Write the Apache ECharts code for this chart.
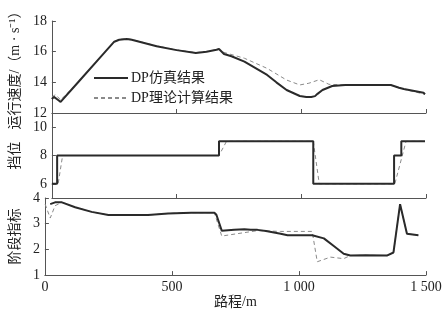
<!DOCTYPE html>
<html><head><meta charset="utf-8">
<script src="https://cdn.jsdelivr.net/npm/echarts@6/dist/echarts.min.js"></script>
<style>html,body{margin:0;padding:0;background:#fff}#c{width:445px;height:310px}</style>
</head><body><div id="c"></div>
<script>
// ---- data (distance m, value) ----
const legendNames = ['DP仿真结果', 'DP理论计算结果'];
const xTicks = [0, 500, 1000, 1500];
const speedSim = [[0,12.9],[8,13.05],[15,13.1],[25,12.85],[35,12.72],[106,14.02],[200,15.74],[250,16.65],[270,16.78],[300,16.82],[320,16.78],[420,16.35],[500,16.1],[577,15.92],[620,16.0],[660,16.12],[670,16.17],[690,15.85],[720,15.7],[772,15.35],[863,14.48],[900,14.0],[941,13.5],[994,13.11],[1020,13.04],[1040,13.05],[1055,13.1],[1065,13.25],[1085,13.5],[1124,13.76],[1176,13.83],[1359,13.83],[1392,13.65],[1398,13.78],[1411,13.56],[1490,13.32],[1496,13.22]];
const speedTheory = [[0,13.05],[15,13.2],[35,12.85],[106,14.02],[200,15.74],[250,16.65],[270,16.8],[300,16.85],[320,16.8],[420,16.37],[500,16.12],[577,15.94],[620,16.02],[660,16.12],[670,16.15],[690,15.95],[772,15.57],[863,14.91],[941,14.15],[994,13.83],[1030,13.94],[1072,14.17],[1111,13.87],[1176,13.83],[1359,13.83],[1390,13.65],[1410,13.55],[1496,13.22]];
const gearSim = [[0,6],[21,6],[21,8],[670,8],[670,9],[1048,9],[1048,6],[1372,6],[1372,8],[1401,8],[1401,9],[1496,9]];
const gearTheory = [[0,6],[25,6],[43,8],[670,8],[700,9],[1048,9],[1072,6],[1375,6],[1420,9],[1496,9]];
const stageSim = [[21,3.76],[40,3.83],[67,3.83],[119,3.64],[184,3.46],[250,3.34],[406,3.34],[485,3.4],[576,3.43],[667,3.43],[675,3.35],[696,2.73],[745,2.76],[785,2.78],[810,2.76],[837,2.76],[870,2.72],[928,2.61],[955,2.55],[1052,2.55],[1098,2.43],[1137,2.13],[1176,1.83],[1202,1.76],[1260,1.77],[1346,1.76],[1372,1.88],[1398,3.76],[1425,2.61],[1470,2.55]];
const stageTheory = [[1,3.76],[21,3.22],[40,3.7],[67,3.83],[119,3.64],[184,3.46],[250,3.34],[406,3.34],[485,3.4],[576,3.43],[667,3.43],[696,2.52],[837,2.73],[928,2.7],[1052,2.7],[1072,1.52],[1124,1.7],[1176,1.64],[1202,1.76],[1260,1.77],[1346,1.76],[1372,1.88],[1398,3.76],[1425,2.61],[1470,2.55]];
const speedTicks = [12, 14, 16, 18];
const gearTicks = [6, 8, 10];
const stageTicks = [1, 2, 3, 4];

const FONT = "'Liberation Serif','Noto Sans CJK SC',serif";
const axisColor = '#555';
const chart = echarts.init(document.getElementById('c'), null, {renderer: 'canvas'});

function xAxis(idx, showLabel) {
  return {
    type: 'value', gridIndex: idx, min: 0, max: 1500, interval: 500,
    axisLine: {show: true, lineStyle: {color: axisColor, width: 1}},
    axisTick: {show: true, inside: true, length: 4, customValues: xTicks, lineStyle: {color: axisColor}},
    splitLine: {show: false},
    axisLabel: {show: showLabel, color: '#222', fontFamily: FONT, fontSize: 14, margin: 5,
      formatter: v => v >= 1000 ? String(v).replace(/(\d)(\d{3})$/, '$1 $2') : String(v)},
    name: showLabel ? '路程/m' : '', nameLocation: 'middle', nameGap: 17,
    nameTextStyle: {color: '#222', fontFamily: FONT, fontSize: 14}
  };
}
function yAxis(idx, min, max, ticks, name, nameGap) {
  return {
    type: 'value', gridIndex: idx, min: min, max: max, interval: 1,
    axisLine: {show: true, lineStyle: {color: axisColor, width: 1}},
    axisTick: {show: true, inside: true, length: 4, customValues: ticks, lineStyle: {color: axisColor}},
    axisLabel: {color: '#222', fontFamily: FONT, fontSize: 14, margin: 5, customValues: ticks},
    splitLine: {show: false},
    name: name, nameLocation: 'middle', nameRotate: 90, nameGap: nameGap,
    nameTextStyle: {color: '#222', fontFamily: FONT, fontSize: 14}
  };
}
const solid = {color: '#2a2a2a', width: 2};
const dashed = {color: '#8a8a8a', width: 1, type: [4, 3]};
function ser(name, data, g, style) {
  return {type: 'line', name: name, data: data, xAxisIndex: g, yAxisIndex: g,
    showSymbol: false, symbol: 'none', lineStyle: style, itemStyle: {color: style.color},
    animation: false, z: style.type ? 2 : 3};
}
chart.setOption({
  animation: false,
  backgroundColor: '#fff',
  grid: [
    {left: 43, right: 19, top: 21, height: 92},
    {left: 43, right: 19, top: 113, height: 85},
    {left: 43, right: 19, top: 198, height: 83}
  ],
  xAxis: [xAxis(0, false), xAxis(1, false), xAxis(2, true)],
  yAxis: [
    yAxis(0, 12, 18, speedTicks, '运行速度/（m · s⁻¹）', 19),
    yAxis(1, 5, 11, gearTicks, '挡位', 19),
    yAxis(2, 1, 4, stageTicks, '阶段指标', 19)
  ],
  legend: {
    show: true, orient: 'vertical', left: 88, top: 66, itemWidth: 34, itemHeight: 10, itemGap: 6,
    data: legendNames,
    itemStyle: {color: 'rgba(0,0,0,0)', borderWidth: 0, opacity: 0},
    textStyle: {color: '#222', fontFamily: FONT, fontSize: 14, padding: [0, 0, 0, -2]}
  },
  series: [
    ser(legendNames[0], speedSim, 0, solid),
    ser(legendNames[1], speedTheory, 0, dashed),
    ser(legendNames[0], gearSim, 1, solid),
    ser(legendNames[1], gearTheory, 1, dashed),
    ser(legendNames[0], stageSim, 2, solid),
    ser(legendNames[1], stageTheory, 2, dashed)
  ]
});
</script></body></html>
